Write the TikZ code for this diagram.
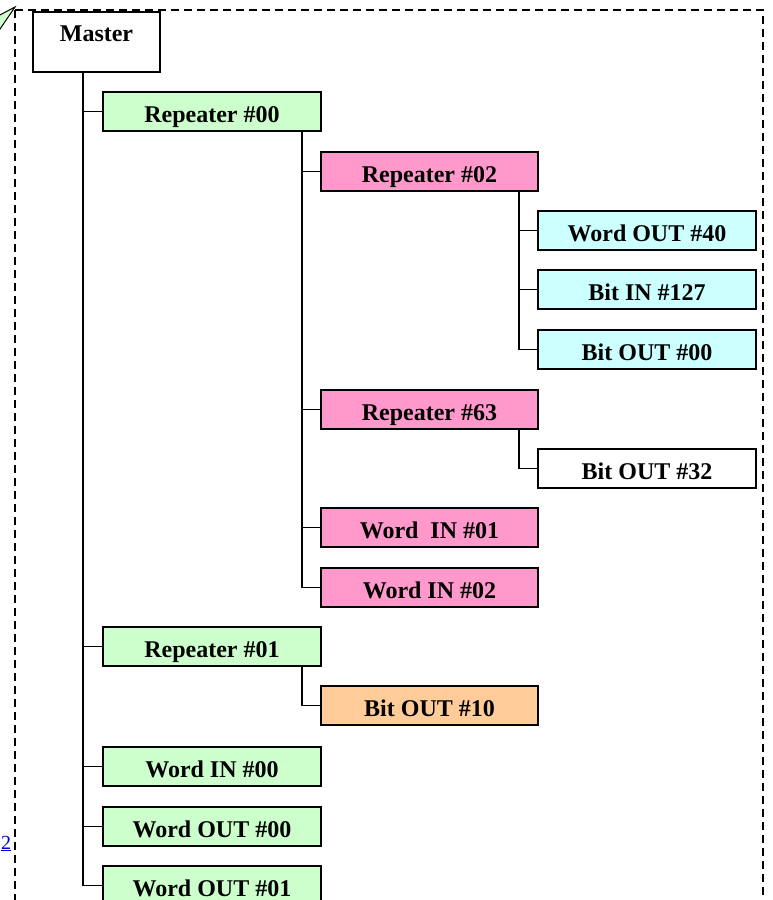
\documentclass[tikz,border=0pt]{standalone}
\usepackage{fontspec}
\setmainfont{Liberation Serif}
\usetikzlibrary{calc}
\definecolor{grn}{HTML}{CCFFCC}
\definecolor{pnk}{HTML}{FF99CC}
\definecolor{cyn}{HTML}{CCFFFF}
\definecolor{org}{HTML}{FFCC99}
\definecolor{lnk}{HTML}{0000CC}
\begin{document}
\begin{tikzpicture}[x=1pt,y=-1pt,
  box/.style={draw=black, line width=1.4pt, inner sep=0pt, minimum height=39pt,
    text height=22pt, text depth=0pt, font=\fontsize{24}{28}\selectfont\bfseries},
  lvone/.style={box, fill=grn, minimum width=218pt},
  lvtwo/.style={box, fill=pnk, minimum width=217pt},
  lvthree/.style={box, fill=cyn, minimum width=218pt},
  link/.style={draw=black, line width=1.6pt},
  frame/.style={draw=black, line width=1.4pt, dash pattern=on 8pt off 5pt}]
\useasboundingbox (0,0) rectangle (772,900);
\clip (0,0) rectangle (772,900);
% dashed frame and callout tail
\draw[frame] (15,10) -- (763,10) -- (763,920);
\draw[frame] (15,10) -- (15,920);
\filldraw[fill=grn, draw=black, line width=1pt] (-2,16) -- (15,7) -- (-2,32);
\node[text=lnk, font=\fontsize{20}{22}\selectfont, anchor=base west, inner sep=0pt] (lnk2) at (1,849) {\underline{2}};
% nodes
\node[box, fill=white, minimum width=127pt, minimum height=60pt, text height=16pt, text depth=18pt] (m) at (96.5,42) {Master};
\node[lvone] (r00) at (212,111.5) {Repeater \#00};
\node[lvtwo] (r02) at (429.5,171.5) {Repeater \#02};
\node[lvthree] (wo40) at (647,230.5) {Word OUT \#40};
\node[lvthree] (bi127) at (647,289.5) {Bit IN \#127};
\node[lvthree] (bo00) at (647,349.5) {Bit OUT \#00};
\node[lvtwo] (r63) at (429.5,409.5) {Repeater \#63};
\node[box, fill=white, minimum width=218pt] (bo32) at (647,468.5) {Bit OUT \#32};
\node[lvtwo] (wi01) at (429.5,527.5) {Word\ \ IN \#01};
\node[lvtwo] (wi02) at (429.5,587.5) {Word IN \#02};
\node[lvone] (r01) at (212,646.5) {Repeater \#01};
\node[box, fill=org, minimum width=217pt] (bo10) at (429.5,705.5) {Bit OUT \#10};
\node[lvone] (wi00) at (212,766.5) {Word IN \#00};
\node[lvone] (wo00) at (212,826.5) {Word OUT \#00};
\node[lvone] (wo01) at (212,885.5) {Word OUT \#01};
% connectors
\coordinate (tm) at ($(m.south west)+(50.5,0)$);
\foreach \c in {r00,r01,wi00,wo00,wo01} \draw[link] (tm) |- (\c.west);
\coordinate (t00) at ($(r00.south east)+(-20,0)$);
\foreach \c in {r02,r63,wi01,wi02} \draw[link] (t00) |- (\c.west);
\coordinate (t02) at ($(r02.south east)+(-20,0)$);
\foreach \c in {wo40,bi127,bo00} \draw[link] (t02) |- (\c.west);
\coordinate (t63) at ($(r63.south east)+(-20,0)$);
\draw[link] (t63) |- (bo32.west);
\coordinate (t01) at ($(r01.south east)+(-20,0)$);
\draw[link] (t01) |- (bo10.west);
\end{tikzpicture}
\end{document}
